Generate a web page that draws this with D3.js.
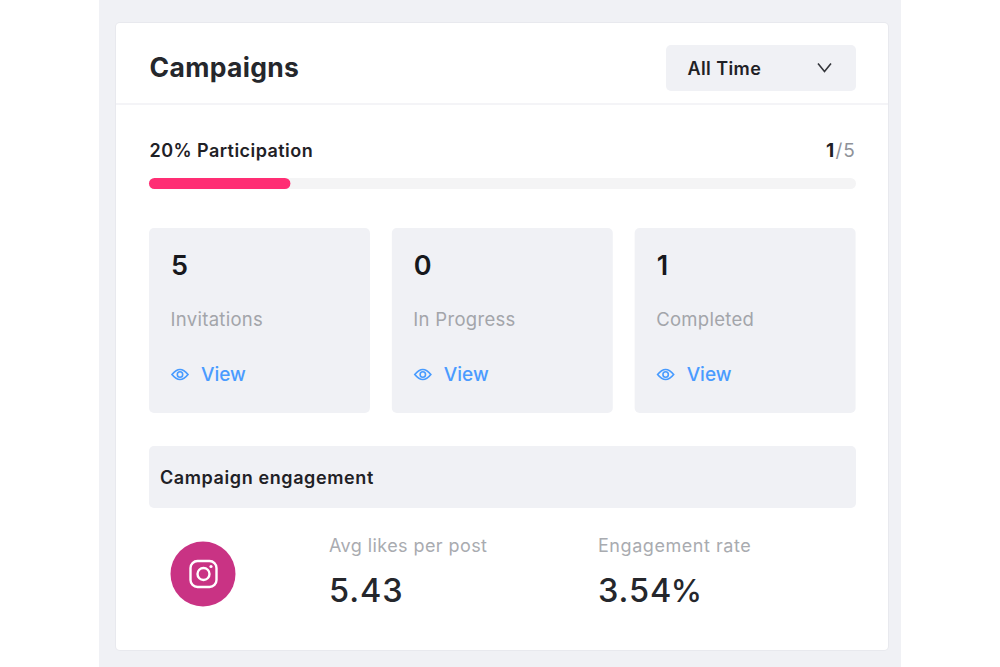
<!DOCTYPE html>
<html>
<head>
<meta charset="utf-8">
<script src="https://cdn.jsdelivr.net/npm/d3@7"></script>
<style>
html, body { margin: 0; padding: 0; background: #fff; overflow: hidden; }
text { font-family: Inter, "Noto Sans", sans-serif; }
</style>
</head>
<body>
<svg id="chart" width="1000" height="667"></svg>
<script>
// Data
const statLabels = ["Invitations", "In Progress", "Completed"];
const statValues = [5, 0, 1];
const participationPct = 20;
const completedCount = 1;
const invitedCount = 5;
const metricLabels = ["Avg likes per post", "Engagement rate"];
const metricValues = ["5.43", "3.54"];
const metricUnits = ["", "%"];
const metricX = [329, 598];

const svg = d3.select("#chart");

// Page background and the white card
svg.append("rect").attr("x", 99).attr("y", 0).attr("width", 802).attr("height", 667).attr("fill", "#f0f1f5");
svg.append("rect").attr("x", 115).attr("y", 22).attr("width", 774).attr("height", 629).attr("rx", 5).attr("fill", "#e8e9ee");
svg.append("rect").attr("x", 116).attr("y", 23).attr("width", 772).attr("height", 627).attr("rx", 4).attr("fill", "#fff");

// Header
svg.append("text").attr("x", 149.5).attr("y", 77).attr("font-size", 26.5).attr("font-weight", 700)
    .attr("letter-spacing", 0.33).attr("fill", "#25272c").text("Campaigns");
svg.append("line").attr("x1", 116).attr("x2", 888).attr("y1", 104).attr("y2", 104)
    .attr("stroke", "#f1f1f4").attr("stroke-width", 1.5);

// Dropdown
svg.append("rect").attr("x", 666).attr("y", 45).attr("width", 190).attr("height", 46).attr("rx", 5).attr("fill", "#f0f1f5");
svg.append("text").attr("x", 687.5).attr("y", 74.5).attr("font-size", 18).attr("font-weight", 600)
    .attr("letter-spacing", 0.4).attr("fill", "#1f2126").text("All Time");
svg.append("path").attr("d", "M818 63.5L824.5 71.5L831 63.5").attr("fill", "none")
    .attr("stroke", "#33353a").attr("stroke-width", 1.6);

// Participation bar
const xPct = d3.scaleLinear().domain([0, 100]).range([149, 856]);
svg.append("text").attr("x", 149.5).attr("y", 157).attr("font-size", 18).attr("font-weight", 600)
    .attr("letter-spacing", 0.45).attr("fill", "#1f2126").text(participationPct + "% Participation");
const ratio = svg.append("text").attr("x", 856).attr("y", 157).attr("text-anchor", "end")
    .attr("font-size", 19).attr("letter-spacing", 1.1);
ratio.append("tspan").attr("font-weight", 700).attr("fill", "#1f2126").text(completedCount);
ratio.append("tspan").attr("fill", "#8f9299").text("/" + invitedCount);
svg.append("rect").attr("x", xPct(0)).attr("y", 178).attr("width", xPct(100) - xPct(0)).attr("height", 11)
    .attr("rx", 5.5).attr("fill", "#f4f4f5");
svg.append("rect").attr("x", xPct(0)).attr("y", 178).attr("width", xPct(participationPct) - xPct(0)).attr("height", 11)
    .attr("rx", 5.5).attr("fill", "#ff2e74");

// Stat cards
const xCard = d3.scaleBand().domain(statLabels).range([149, 855.6]).paddingInner(0.09);
const cards = svg.selectAll("g.card").data(statLabels).join("g").attr("class", "card")
    .attr("transform", d => `translate(${xCard(d)},228)`);
cards.append("rect").attr("width", xCard.bandwidth()).attr("height", 185).attr("rx", 5).attr("fill", "#f0f1f5");
cards.append("text").attr("x", 22).attr("y", 46.5).attr("font-size", 27).attr("font-weight", 600)
    .attr("fill", "#17181c").text((d, i) => statValues[i]);
cards.append("text").attr("x", 21.5).attr("y", 98).attr("font-size", 18.5).attr("letter-spacing", 0.3)
    .attr("fill", "#a3a5aa").text(d => d);
// eye icon
cards.append("path").attr("d", "M23 146.5Q31 136.5 39 146.5Q31 156.5 23 146.5Z").attr("fill", "none")
    .attr("stroke", "#479bff").attr("stroke-width", 1.7);
cards.append("circle").attr("cx", 31).attr("cy", 146.5).attr("r", 2.7).attr("fill", "none")
    .attr("stroke", "#479bff").attr("stroke-width", 1.6);
cards.append("text").attr("x", 52).attr("y", 152.5).attr("font-size", 19).attr("font-weight", 500)
    .attr("fill", "#4a9bff").text("View");

// Engagement band
svg.append("rect").attr("x", 149).attr("y", 446).attr("width", 707).attr("height", 62).attr("rx", 5).attr("fill", "#f0f1f5");
svg.append("text").attr("x", 160).attr("y", 483.5).attr("font-size", 18).attr("font-weight", 600)
    .attr("letter-spacing", 0.6).attr("fill", "#1f2126").text("Campaign engagement");

// Instagram badge
svg.append("circle").attr("cx", 203).attr("cy", 574).attr("r", 32.5).attr("fill", "#c93384");
svg.append("rect").attr("x", 190.5).attr("y", 561).attr("width", 26).attr("height", 26).attr("rx", 7)
    .attr("fill", "none").attr("stroke", "#fff").attr("stroke-width", 2.4);
svg.append("circle").attr("cx", 203.5).attr("cy", 574).attr("r", 6).attr("fill", "none")
    .attr("stroke", "#fff").attr("stroke-width", 2.4);
svg.append("circle").attr("cx", 211).attr("cy", 566.5).attr("r", 1.6).attr("fill", "#fff");

// Engagement metrics
const metrics = svg.selectAll("g.metric").data(metricLabels).join("g").attr("class", "metric")
    .attr("transform", (d, i) => `translate(${metricX[i]},0)`);
metrics.append("text").attr("y", 552).attr("font-size", 18).attr("letter-spacing", (d, i) => i ? 0.55 : 0.42)
    .attr("fill", "#a9abb0").text(d => d);
const metricText = metrics.append("text").attr("y", 602).attr("font-size", 32.5).attr("font-weight", 500)
    .attr("letter-spacing", 0.9).attr("fill", "#25272c");
metricText.append("tspan").text((d, i) => metricValues[i]);
metricText.append("tspan").attr("font-size", 31.5).attr("dx", -1.5).text((d, i) => metricUnits[i]);
</script>
</body>
</html>
